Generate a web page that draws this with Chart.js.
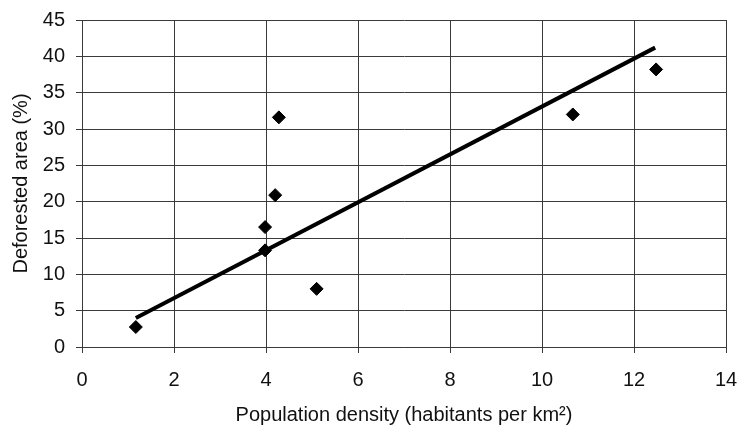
<!DOCTYPE html>
<html>
<head>
<meta charset="utf-8">
<script src="https://cdn.jsdelivr.net/npm/chart.js@4"></script>
<style>
  html, body { margin: 0; padding: 0; background: #fff; }
  #wrap { width: 739px; height: 432px; }
</style>
</head>
<body>
<div id="wrap"><canvas id="chart" width="739" height="432"></canvas></div>
<script>
// population density (habitants per km2) vs deforested area (%)
const density = [1.17, 3.98, 3.98, 5.1, 4.2, 4.28, 10.67, 12.48];
const deforested = [2.75, 16.5, 13.3, 8.0, 20.9, 31.6, 32.0, 38.2];

// fitted trend line end points
const trendX = [1.17, 12.46];
const trendY = [4.0, 41.2];

const xTicks = [0, 2, 4, 6, 8, 10, 12, 14];
const yTicks = [0, 5, 10, 15, 20, 25, 30, 35, 40, 45];

const FONT = "'Liberation Sans', Arial, sans-serif";
const gridColor = "#3a3a3a";
const textColor = "#111";

document.addEventListener("DOMContentLoaded", () => {
  const ctx = document.getElementById("chart").getContext("2d");

  new Chart(ctx, {
    type: "scatter",
    data: {
      datasets: [
        {
          label: "Observed",
          data: density.map((x, i) => ({ x, y: deforested[i] })),
          pointStyle: "rectRot",
          pointRadius: 6.5,
          pointBackgroundColor: "#000",
          pointBorderColor: "#000",
          pointBorderWidth: 1,
          order: 2
        },
        {
          label: "Trend",
          type: "line",
          data: trendX.map((x, i) => ({ x, y: trendY[i] })),
          borderColor: "#000",
          borderWidth: 4,
          pointRadius: 0,
          fill: false,
          order: 1
        }
      ]
    },
    options: {
      responsive: false,
      animation: false,
      events: [],
      layout: { padding: { left: 0, right: 13, top: 20, bottom: 0 } },
      plugins: {
        legend: { display: false },
        tooltip: { enabled: false }
      },
      scales: {
        x: {
          type: "linear",
          min: xTicks[0],
          max: xTicks[xTicks.length - 1],
          afterBuildTicks: axis => { axis.ticks = xTicks.map(v => ({ value: v })); },
          afterFit: axis => {
            // keep the plot edges fixed regardless of label overflow
            axis.height = 85;
            axis.paddingLeft = 0;
            axis.paddingRight = 13;
          },
          grid: { color: gridColor, lineWidth: 1, tickLength: 6, drawTicks: true },
          border: { color: gridColor, width: 1 },
          ticks: {
            color: textColor,
            padding: 15,
            maxRotation: 0,
            font: { family: FONT, size: 20 }
          },
          title: {
            display: true,
            text: "Population density (habitants per km²)",
            color: textColor,
            font: { family: FONT, size: 20 },
            padding: { top: 4, bottom: 5 }
          }
        },
        y: {
          type: "linear",
          min: yTicks[0],
          max: yTicks[yTicks.length - 1],
          afterBuildTicks: axis => { axis.ticks = yTicks.map(v => ({ value: v })); },
          afterFit: axis => {
            axis.width = 82;
            axis.paddingTop = 0;
            axis.paddingBottom = 0;
          },
          grid: { color: gridColor, lineWidth: 1, tickLength: 6, drawTicks: true },
          border: { color: gridColor, width: 1 },
          ticks: {
            color: textColor,
            padding: 11,
            font: { family: FONT, size: 20 }
          },
          title: {
            display: true,
            text: "Deforested area (%)",
            color: textColor,
            font: { family: FONT, size: 20 },
            padding: { top: 9, bottom: 4 }
          }
        }
      }
    }
  });
});
</script>
</body>
</html>
